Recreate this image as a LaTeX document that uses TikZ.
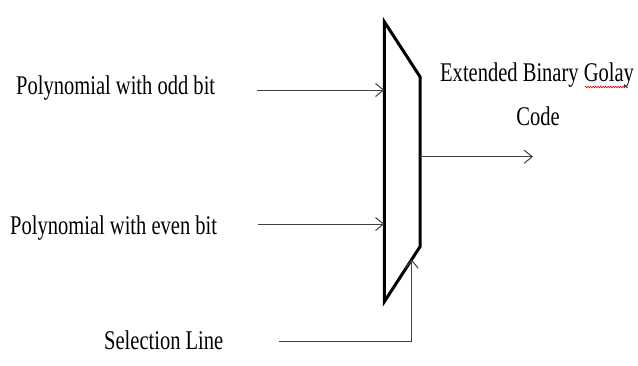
\documentclass[tikz,border=0pt]{standalone}
\usepackage{fontspec}
\setmainfont{Liberation Serif}
\usetikzlibrary{arrows.meta,decorations.pathmorphing}
\tikzset{
  lbl/.style={inner sep=0pt, font=\fontsize{27}{31}\selectfont},
  wire/.style={line width=1pt, draw=black!75, -{Straight Barb[length=8pt,width=13pt,line width=1pt]}},
  mux/.style={line width=3pt, draw=black, fill=white, line join=miter},
}
\newcommand{\sq}[1]{\scalebox{0.76}[1]{#1}}
\begin{document}
\begin{tikzpicture}[x=1pt,y=1pt]
\useasboundingbox (0,0) rectangle (638,-365);
\fill[white] (0,0) rectangle (638,-365);
% mux
\coordinate (tl) at (384.3,-21.7);
\coordinate (tr) at (420,-76.7);
\coordinate (br) at (420,-246.7);
\coordinate (bl) at (384.3,-301.7);
\draw[mux] (tl) -- (tr) -- (br) -- (bl) -- cycle;
% labels
\node[lbl, anchor=base west] (odd) at (16,-94.3) {\sq{Polynomial with odd bit}};
\node[lbl, anchor=base west] (even) at (10,-234.3) {\sq{Polynomial with even bit}};
\node[lbl, anchor=base west] (sel) at (104,-349.3) {\sq{Selection Line}};
\node[lbl, anchor=base west] (ext) at (440,-81.7) {\sq{Extended Binary Golay}};
\node[lbl, anchor=base] (code) at (538,-125) {\sq{Code}};
% wires
\coordinate (in1s) at (257,-90);
\coordinate (in1e) at (384.3,-90);
\coordinate (in2s) at (258,-224);
\coordinate (in2e) at (384.3,-224);
\coordinate (outs) at (420,-156.7);
\coordinate (oute) at (533,-156.7);
\coordinate (sels) at (279,-341.7);
\coordinate (selc) at (411.7,-341.7);
\coordinate (sele) at (411.7,-259.5);
\draw[wire] (in1s) -- (in1e);
\draw[wire] (in2s) -- (in2e);
\draw[wire] (outs) -- (oute);
\draw[wire] (sels) -- (selc) -- (sele);
% spell-check squiggle
\coordinate (sq1) at (585,-87);
\coordinate (sq2) at (628,-87);
\draw[red!80!black, line width=0.6pt, decorate, decoration={zigzag, segment length=2.5pt, amplitude=0.8pt}] (sq1) -- (sq2);
\end{tikzpicture}
\end{document}
